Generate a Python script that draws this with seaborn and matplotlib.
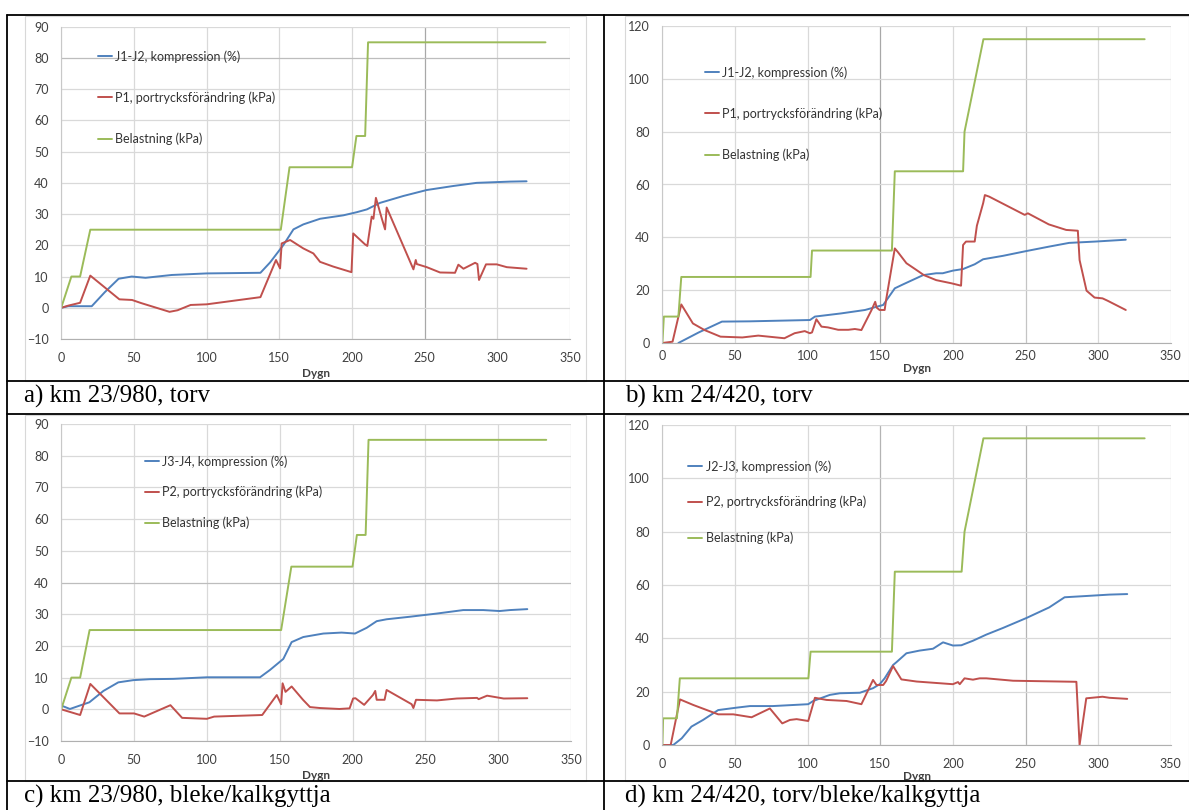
import numpy as np
import pandas as pd
import matplotlib
matplotlib.use("Agg")
import matplotlib.pyplot as plt
import seaborn as sns
from matplotlib.lines import Line2D
from matplotlib.patches import Rectangle

sns.set_style("white")
plt.rcParams['font.family'] = ['Lato', 'DejaVu Sans']

# ---------------- data ----------------
# panel a: km 23/980, torv
a_load_day = [0, 7, 13, 20, 151, 157, 200, 203, 209, 211, 333]
a_load = [0, 10, 10, 25, 25, 45, 45, 55, 55, 85, 85]
a_comp_day = [0, 5, 21, 30, 39.5, 48.5, 58, 76, 100, 137, 143.6, 152.8, 159.7, 166.5, 178, 194,
              203.2, 210.2, 219.3, 235.3, 251.3, 269.7, 285.7, 308.7, 320]
a_comp = [0, 0.5, 0.5, 5, 9.3, 10, 9.6, 10.5, 11, 11.2, 14.5, 20.1, 25.1, 26.7, 28.5, 29.6,
          30.6, 31.5, 33.6, 35.8, 37.7, 39, 40, 40.4, 40.5]
a_pore_day = [0, 5, 13, 20, 40, 48.7, 55, 74.5, 80, 89, 100, 137, 147.7, 150.5, 151.6, 157.4,
              166.5, 173.4, 178, 187, 199.6, 200.8, 208.9, 210.5, 213.5, 214.7, 216.4, 220.5,
              222.7, 223.8, 242.2, 243.8, 244.5, 251.4, 260.5, 270.8, 273.1, 276.6, 284.6,
              286.2, 287.3, 292.1, 299.5, 306.4, 320]
a_pore = [0, 0.7, 1.6, 10.3, 2.7, 2.5, 1.5, -1.3, -0.8, 0.9, 1.1, 3.4, 15.3, 12.6, 20.6, 21.7,
          19, 17.4, 14.7, 13.2, 11.4, 23.8, 20.3, 19.8, 29.2, 28.5, 35.2, 28.5,
          25.1, 32.1, 12.3, 15.3, 14, 13, 11.3, 11.2, 13.8, 12.5, 14.4,
          14, 8.9, 13.9, 13.9, 13, 12.5]

# panel b: km 24/420, torv
b_load_day = [0, 1, 11, 13, 102, 103, 158, 160, 207, 208, 221, 332]
b_load = [0, 10, 10, 25, 25, 35, 35, 65, 65, 80, 115, 115]
b_comp_day = [11, 25, 41, 60, 101.6, 105, 123, 139.5, 152, 160, 165.7, 179.5, 188.5, 193, 200,
              207, 215, 220.8, 234.5, 250.5, 266.3, 280, 298, 307, 319]
b_comp = [0, 4, 8.1, 8.2, 8.7, 10, 11.2, 12.5, 14.4, 20.7, 22.2, 25.7, 26.4, 26.4, 27.4,
          28, 29.8, 31.7, 33, 34.8, 36.5, 37.9, 38.4, 38.7, 39.1]
b_pore_day = [0, 7, 13, 21, 29, 40, 55, 66, 84, 91, 98, 101.5, 103, 106, 109.5, 114, 121, 128,
              132.5, 137, 144, 146.5, 147.5, 149.5, 153, 154, 160, 162, 168, 175, 180, 188.5,
              199, 205.6, 207, 209, 215, 216.5, 220.8, 222, 225, 249.4, 251.6, 266, 278, 286,
              287.2, 292, 297.5, 303, 306.5, 319]
b_pore = [0, 0.5, 14.6, 7.4, 4.9, 2.4, 2.1, 2.8, 1.8, 3.7, 4.5, 3.7, 4, 9, 6.2, 5.9, 5, 5,
          5.3, 4.9, 12.5, 15.6, 13.4, 12.5, 12.5, 16.3, 35.8, 34.5, 30.2, 27.6, 25.7, 23.8,
          22.6, 21.7, 37.1, 38.4, 38.4, 44.4, 52.9, 56, 55.4, 48.5, 49.1, 44.9, 42.8, 42.5,
          31.4, 19.8, 17.2, 16.9, 16, 12.5]

# panel c: km 23/980, bleke/kalkgyttja
c_load_day = [0, 7, 13, 19.5, 151, 158, 200, 203, 209, 211, 333]
c_load = [0, 10, 10, 25, 25, 45, 45, 55, 55, 85, 85]
c_comp_day = [0, 6, 12.9, 19.3, 29, 39.2, 49.5, 61, 77, 100, 136.5, 143.3, 152.5, 158.2, 166.2,
              180, 192.5, 201.7, 209.7, 216.6, 223.4, 239.4, 257.8, 276, 289.8, 301, 308, 320]
c_comp = [1.2, 0.1, 1.2, 2.2, 5.8, 8.5, 9.2, 9.5, 9.6, 10.1, 10.1, 12.4, 15.9, 21.2, 22.8,
          23.9, 24.2, 23.9, 25.7, 27.8, 28.4, 29.2, 30.2, 31.3, 31.3, 31, 31.3, 31.6]
c_pore_day = [0, 13, 20, 40, 50, 57, 75, 83, 100, 105, 138, 148, 151, 152, 154, 158.2, 166,
              170.8, 177.7, 191, 198, 200.4, 202, 208, 214, 215.6, 216.6, 222, 223.4, 240.6,
              241.8, 243.6, 258, 271.6, 285.5, 286.6, 292.4, 303.8, 320]
c_pore = [0, -1.8, 8, -1.3, -1.3, -2.3, 1.3, -2.7, -3, -2.3, -1.8, 4.5, 1.6, 8.2, 5.5, 7.2, 3,
          0.7, 0.4, 0.1, 0.3, 3.4, 3.5, 1.4, 4.5, 5.8, 3, 3, 6.1, 1.6,
          0.4, 3, 2.8, 3.4, 3.6, 3.2, 4.3, 3.4, 3.5]

# panel d: km 24/420, torv/bleke/kalkgyttja
d_load_day = [0, 0.5, 10, 12, 100.5, 102, 158, 160, 206, 208, 221, 332]
d_load = [0, 10, 10, 25, 25, 35, 35, 65, 65, 80, 115, 115]
d_comp_day = [0, 7.5, 13.3, 20, 28, 38.4, 51, 60.3, 76, 100.4, 103.8, 115.3, 122.2, 136, 145,
              149.6, 153, 158.8, 161, 168, 177, 186.3, 193.2, 200, 205.8, 213.8, 223, 234.5,
              250.5, 266.3, 276.9, 289.5, 307.8, 320]
d_comp = [0, 0, 2.5, 6.9, 9.4, 13.1, 14, 14.6, 14.6, 15.3, 16.5, 18.8, 19.4, 19.6, 21.3,
          22.8, 25, 30, 31, 34.4, 35.4, 36.1, 38.5, 37.3, 37.4, 39.1, 41.4, 43.9,
          47.6, 51.6, 55.4, 55.8, 56.4, 56.6]
d_pore_day = [0, 5.7, 12.1, 21.3, 38.4, 48.8, 61.4, 74, 82.5, 87.8, 92.4, 100.4, 105, 113,
              126.8, 137, 145, 147.4, 152, 154, 158.8, 164.5, 175, 200, 203.5, 204.7, 208,
              213.8, 218.4, 223, 241.4, 285, 287.2, 291.8, 303, 307.8, 320]
d_pore = [0, 0, 17.1, 15, 11.5, 11.5, 10.4, 13.7, 8.1, 9.4, 9.7, 9, 17.7, 16.9,
          16.5, 15.3, 24.4, 22.5, 22.5, 24, 29.6, 24.6, 23.8, 22.8, 23.6, 22.8, 25,
          24.5, 25, 25, 24.1, 23.7, 0, 17.5, 18.1, 17.7, 17.3]

labels_a = ["J1-J2, kompression (%)", "P1, portrycksförändring (kPa)", "Belastning (kPa)"]
labels_b = ["J1-J2, kompression (%)", "P1, portrycksförändring (kPa)", "Belastning (kPa)"]
labels_c = ["J3-J4, kompression (%)", "P2, portrycksförändring (kPa)", "Belastning (kPa)"]
labels_d = ["J2-J3, kompression (%)", "P2, portrycksförändring (kPa)", "Belastning (kPa)"]
captions = ["a) km 23/980, torv", "b) km 24/420, torv",
            "c) km 23/980, bleke/kalkgyttja", "d) km 24/420, torv/bleke/kalkgyttja"]
x_ticks = [0, 50, 100, 150, 200, 250, 300, 350]
x_label = "Dygn"

# ---------------- styling ----------------
W, H = 1189, 810
BLUE, RED, GREEN = "#4F81BD", "#C0504D", "#9BBB59"
TXT = "#404040"

fig = plt.figure(figsize=(W / 100, H / 100), dpi=100)
fig.patch.set_facecolor("white")


def fx(px):
    return px / W


def fy(py):
    return 1 - py / H


def make_panel(box, ylim, yticks, series, labels, leg, xpad=9, xlabpad=3,
               dark_x=(), dark_y=()):
    x0, x1, ytop, ybot = box
    ax = fig.add_axes([fx(x0), fy(ybot), fx(x1 - x0), (ybot - ytop) / H])
    cols = [BLUE, RED, GREEN]
    for (dd, vv), lab, c in zip(series, labels, cols):
        df = pd.DataFrame({"Dygn": dd, "v": vv})
        sns.lineplot(data=df, x="Dygn", y="v", ax=ax, sort=False, estimator=None,
                     color=c, linewidth=1.4, label=lab)
    ax.set_xlim(0, 350)
    ax.set_ylim(*ylim)
    ax.set_xticks(x_ticks)
    ax.set_yticks(yticks)
    ax.grid(True, color="#D9D9D9", linewidth=0.9)
    ax.set_axisbelow(True)
    for t, gl in zip(ax.get_xticks(), ax.get_xgridlines()):
        if t in dark_x:
            gl.set_color(dark_x[t])
    for t, gl in zip(ax.get_yticks(), ax.get_ygridlines()):
        if t in dark_y:
            gl.set_color(dark_y[t])
    for s in ["top", "right"]:
        ax.spines[s].set_visible(False)
    ax.spines["left"].set_color("#C8C8C8")
    ax.spines["bottom"].set_color("#B0B0B0")
    ax.tick_params(axis="both", length=0, labelsize=9, colors=TXT, pad=9)
    ax.tick_params(axis="x", pad=xpad)
    ax.set_xlabel(x_label, fontsize=8.5, fontweight="bold", color=TXT, labelpad=xlabpad)
    ax.set_ylabel("")
    hx, yc, ls = leg
    ax.legend(loc="upper left", bbox_to_anchor=(fx(hx), fy(yc - 6)),
              bbox_transform=fig.transFigure, frameon=False, borderpad=0,
              borderaxespad=0, handlelength=1.15, handletextpad=0.25,
              labelspacing=ls, fontsize=9, labelcolor="#333333")
    return ax


make_panel((61.2, 570.2, 26.7, 339), (-10, 90), list(range(-10, 91, 10)),
           [(a_comp_day, a_comp), (a_pore_day, a_pore), (a_load_day, a_load)],
           labels_a, (97.5, 56, 2.3),
           dark_x={250: "#A8A8A8"}, dark_y={80: "#BDBDBD"})
make_panel((662.4, 1170.8, 26, 343), (0, 120), list(range(0, 121, 20)),
           [(b_comp_day, b_comp), (b_pore_day, b_pore), (b_load_day, b_load)],
           labels_b, (705, 72, 2.3), xpad=5, xlabpad=1,
           dark_x={150: "#A8A8A8", 250: "#C4C4C4"})
make_panel((61.2, 571.0, 424, 741), (-10, 90), list(range(-10, 91, 10)),
           [(c_comp_day, c_comp), (c_pore_day, c_pore), (c_load_day, c_load)],
           labels_c, (145, 461, 1.45),
           dark_y={40: "#BDBDBD"})
make_panel((662.4, 1170.8, 425, 745), (0, 120), list(range(0, 121, 20)),
           [(d_comp_day, d_comp), (d_pore_day, d_pore), (d_load_day, d_load)],
           labels_d, (688, 466, 1.85), xlabpad=1,
           dark_x={150: "#B4B4B4", 250: "#B4B4B4"})

# ---------------- table frame ----------------
def hline(y, x0=7, x1=W):
    fig.add_artist(Line2D([fx(x0), fx(x1)], [fy(y), fy(y)], transform=fig.transFigure,
                          color="black", linewidth=1.3))


def vline(x, y0=15, y1=H):
    fig.add_artist(Line2D([fx(x), fx(x)], [fy(y0), fy(y1)], transform=fig.transFigure,
                          color="black", linewidth=1.3))


for y in (15, 381, 414, 781):
    hline(y)
vline(7)
vline(604)

# faint frames around the chart pictures
for (x0, y0, x1, y1) in [(25, 16, 586, 381), (625, 16, 1189, 381),
                         (25, 415, 586, 781), (625, 415, 1189, 781)]:
    fig.add_artist(Rectangle((fx(x0), fy(y1)), fx(x1 - x0), (y1 - y0) / H,
                             transform=fig.transFigure, fill=False,
                             edgecolor="#D8D8D8", linewidth=0.8))

# captions
for (x, y), cap in zip([(24, 396), (625, 396), (24, 796), (625, 796)], captions):
    fig.text(fx(x), fy(y), cap, fontsize=18, family="Liberation Serif",
             va="center", ha="left", color="black")

fig.savefig("out.png", dpi=100)
